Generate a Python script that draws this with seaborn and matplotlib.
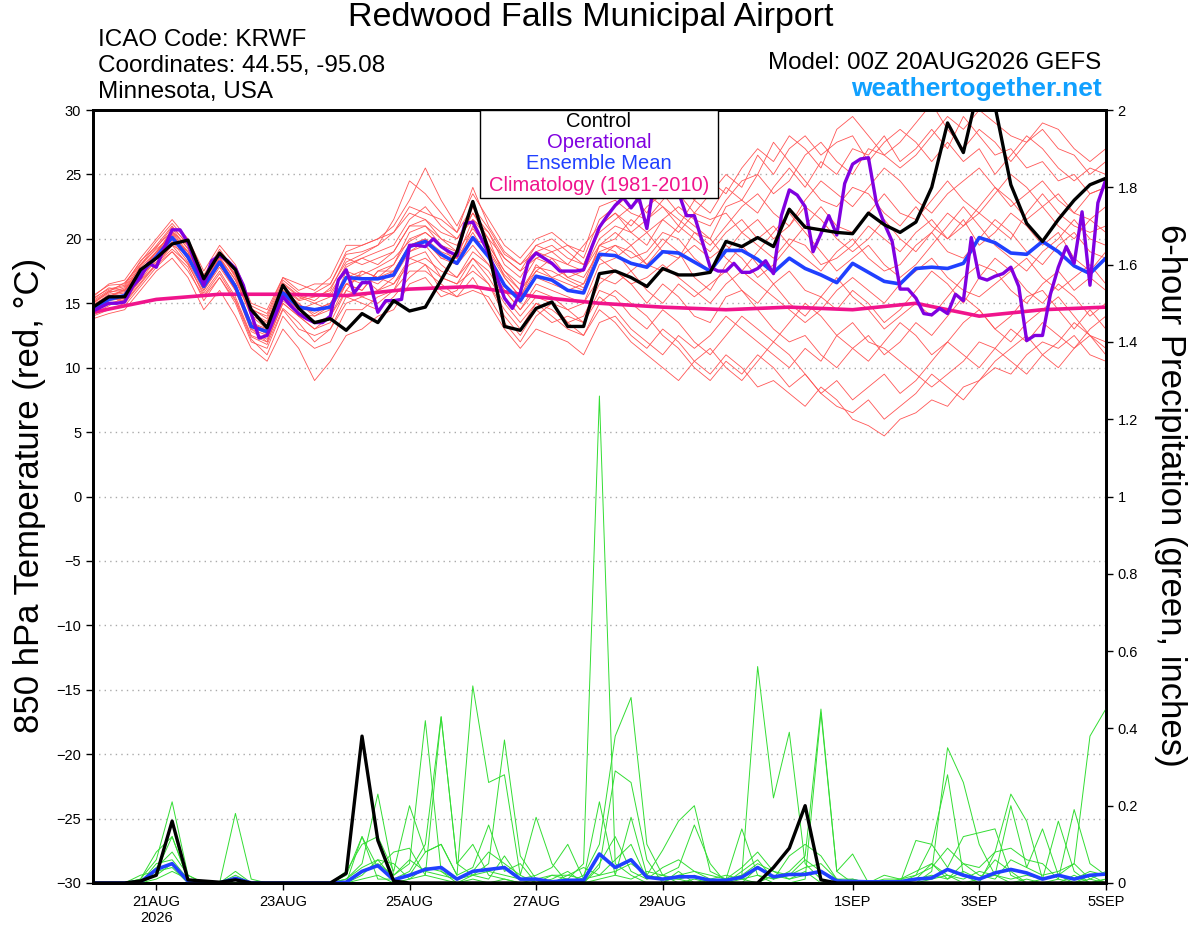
import numpy as np
import pandas as pd
import seaborn as sns
import matplotlib.pyplot as plt
from matplotlib.patches import Rectangle
from matplotlib.ticker import MultipleLocator, FormatStrFormatter

# time axes: GEFS every 6 h, operational every 3 h, climatology daily
times = pd.date_range('2026-08-20 00:00', '2026-09-05 00:00', freq='6h')
op_times = pd.date_range('2026-08-20 00:00', '2026-09-05 00:00', freq='3h')
clim_times = pd.date_range('2026-08-20', '2026-09-05', freq='1D')

tick_dates = pd.to_datetime(['2026-08-21', '2026-08-23', '2026-08-25', '2026-08-27',
                             '2026-08-29', '2026-09-01', '2026-09-03', '2026-09-05'])
tick_labels = ['21AUG\n2026', '23AUG', '25AUG', '27AUG', '29AUG', '1SEP', '3SEP', '5SEP']

# 850 hPa temperature (C)
control_t = [14.7, 15.5, 15.5, 17.6, 18.5, 19.6, 19.9, 16.9, 18.9, 17.6, 14.5, 13.1, 16.4,
             14.6, 13.5, 13.8, 12.9, 14.2, 13.5, 15.2, 14.4, 14.7, 16.8, 19.0, 22.9, 19.1,
             13.2, 12.9, 14.6, 15.1, 13.2, 13.2, 17.3, 17.5, 17.0, 16.3, 17.7, 17.2, 17.2,
             17.4, 19.8, 19.4, 20.1, 19.4, 22.3, 20.9, 20.7, 20.5, 20.4, 22.0, 21.1, 20.5,
             21.3, 24.0, 29.0, 26.7, 32.0, 30.3, 24.2, 21.2, 19.8, 21.5, 23.0, 24.2, 24.7]

mean_t = [14.6, 15.3, 15.6, 17.3, 18.6, 20.1, 18.6, 16.3, 18.2, 16.3, 13.2, 12.8, 15.8,
          14.7, 14.5, 14.7, 17.0, 16.9, 16.9, 17.2, 19.4, 19.8, 18.8, 18.1, 20.1, 18.6,
          16.4, 15.2, 17.1, 16.8, 16.0, 15.8, 18.8, 18.7, 18.1, 17.8, 19.0, 18.9, 18.2,
          17.5, 19.1, 19.1, 18.4, 17.4, 18.5, 17.7, 17.2, 16.6, 18.1, 17.4, 16.7, 16.5,
          17.7, 17.8, 17.7, 18.1, 20.1, 19.7, 18.9, 18.8, 19.8, 19.0, 17.9, 17.3, 18.5]

oper_t = [14.4, 14.7, 15.0, 15.0, 15.1, 16.3, 17.0, 18.1, 17.8, 19.3, 20.7, 20.7, 19.7, 18.0, 16.4, 18.3,
          18.7, 18.3, 17.7, 16.4, 14.2, 12.3, 12.5, 14.0, 15.5, 14.8, 14.2, 13.8, 13.5, 13.5, 14.0, 16.8,
          17.6, 15.8, 16.6, 16.6, 14.3, 15.2, 15.2, 15.3, 19.5, 19.5, 19.4, 20.0, 19.4, 19.0, 18.7, 21.2,
          21.3, 20.1, 18.9, 17.1, 15.4, 14.6, 15.8, 18.2, 18.9, 18.5, 18.1, 17.5, 17.5, 17.5, 17.6, 19.3,
          20.9, 21.8, 22.6, 23.2, 22.4, 23.2, 20.8, 24.8, 25.5, 25.0, 23.6, 21.8, 21.8, 19.8, 17.8, 17.5,
          17.5, 18.1, 17.4, 17.4, 17.7, 18.3, 17.3, 21.8, 23.8, 23.4, 22.5, 19.0, 20.4, 21.8, 20.3, 24.3,
          25.8, 26.2, 26.3, 22.8, 21.2, 19.8, 16.1, 16.1, 15.4, 14.2, 14.1, 14.6, 14.2, 15.7, 15.2, 20.1,
          17.0, 16.8, 17.1, 17.3, 17.8, 16.3, 12.1, 12.5, 12.5, 15.7, 17.8, 19.4, 18.1, 22.1, 16.4, 22.8,
          24.6]

clim_t = [14.3, 15.3, 15.7, 15.7, 15.6, 16.1, 16.3, 15.5, 15.0, 14.7, 14.5, 14.7, 14.5,
          15.0, 14.0, 14.5, 14.7]

# ensemble members (temperature)
m01 = [15.2, 16.0, 16.3, 18.0, 19.5, 21.0, 19.5, 17.0, 19.0, 17.0, 14.0, 13.5, 16.5,
       15.5, 15.0, 15.5, 18.0, 18.5, 19.0, 19.5, 21.5, 22.5, 21.0, 20.0, 22.0, 20.5,
       18.0, 17.0, 19.0, 19.5, 18.5, 18.0, 21.0, 22.0, 21.0, 22.5, 23.5, 22.0, 21.0,
       20.0, 22.5, 23.0, 22.0, 24.0, 25.5, 24.0, 26.0, 25.0, 27.0, 26.5, 28.0, 26.0,
       27.0, 28.5, 27.0, 29.5, 28.0, 26.5, 27.0, 25.5, 26.0, 24.5, 25.0, 23.5, 24.0]
m02 = [14.0, 14.5, 15.0, 16.5, 18.0, 19.0, 17.5, 15.5, 17.0, 15.0, 12.0, 11.5, 14.5,
       13.0, 12.5, 13.0, 15.5, 15.0, 14.5, 15.5, 17.0, 18.0, 16.0, 15.5, 17.0, 15.0,
       13.0, 11.5, 13.0, 12.5, 12.0, 11.0, 13.5, 14.0, 12.5, 11.5, 13.0, 12.0, 10.5,
       9.5, 11.0, 10.0, 8.5, 9.0, 8.0, 7.0, 8.5, 7.5, 6.0, 5.5, 4.7, 6.0,
       6.5, 7.5, 7.0, 8.5, 9.0, 10.0, 9.5, 11.0, 12.0, 11.5, 12.5, 11.0, 10.5]
m03 = [14.8, 15.5, 16.0, 17.5, 19.0, 20.5, 19.0, 16.5, 18.5, 16.5, 13.0, 12.5, 16.0,
       15.0, 14.0, 14.5, 16.5, 16.0, 17.5, 18.0, 20.0, 20.5, 19.5, 18.0, 21.0, 19.0,
       17.0, 15.5, 18.0, 17.0, 16.5, 16.0, 19.5, 19.0, 17.5, 18.5, 20.0, 19.0, 17.0,
       16.0, 18.0, 19.5, 18.0, 16.5, 17.5, 16.0, 15.5, 14.5, 16.0, 15.0, 13.5, 14.5,
       16.0, 17.5, 16.5, 15.0, 17.0, 18.5, 17.5, 16.0, 15.0, 16.5, 15.5, 14.0, 15.0]
m04 = [15.5, 16.5, 16.8, 18.5, 20.0, 21.5, 20.0, 17.5, 19.5, 18.0, 15.0, 14.5, 17.0,
       16.5, 16.0, 17.0, 19.5, 19.5, 20.0, 21.0, 23.0, 25.5, 23.0, 21.0, 23.5, 21.5,
       19.5, 18.5, 20.0, 20.5, 19.5, 19.0, 22.5, 23.0, 22.0, 21.5, 23.0, 24.5, 23.0,
       22.0, 24.0, 23.0, 25.0, 27.5, 26.0, 24.5, 23.0, 22.5, 24.0, 23.5, 22.0, 21.0,
       22.5, 21.0, 20.0, 21.5, 19.5, 20.5, 22.0, 21.0, 19.5, 20.5, 18.5, 17.5, 19.0]
m05 = [13.8, 14.2, 14.5, 16.0, 17.5, 18.5, 17.0, 14.5, 16.0, 14.0, 11.5, 10.5, 13.0,
       11.5, 9.0, 10.5, 12.5, 13.0, 14.0, 14.5, 16.5, 17.0, 15.5, 16.0, 18.0, 16.5,
       14.5, 13.0, 15.0, 14.5, 13.5, 14.0, 16.5, 17.5, 16.5, 15.0, 16.5, 15.5, 14.0,
       13.5, 15.5, 16.0, 14.5, 13.0, 12.0, 12.5, 11.0, 10.0, 11.5, 12.5, 11.0, 12.0,
       13.5, 12.5, 14.0, 15.5, 14.5, 13.0, 14.0, 15.5, 16.0, 14.5, 13.0, 14.5, 13.0]
m06 = [15.0, 15.8, 16.2, 17.8, 19.0, 20.0, 18.5, 16.0, 18.0, 16.0, 13.5, 13.0, 15.5,
       14.5, 15.0, 14.5, 17.5, 17.0, 16.5, 17.5, 19.0, 19.5, 18.0, 17.0, 19.0, 18.0,
       16.0, 14.5, 16.5, 16.0, 15.5, 15.0, 18.0, 18.5, 19.5, 18.0, 19.5, 21.0, 20.0,
       19.0, 20.5, 21.5, 20.0, 21.0, 19.5, 21.0, 22.5, 21.0, 20.5, 22.0, 23.5, 22.0,
       21.5, 23.0, 24.5, 23.0, 22.0, 23.5, 25.0, 24.0, 22.5, 23.5, 22.0, 21.5, 20.5]
m07 = [14.5, 15.0, 15.3, 17.0, 18.5, 20.0, 19.0, 16.8, 18.5, 16.8, 14.0, 13.0, 16.0,
       14.0, 13.5, 14.0, 16.0, 17.5, 17.0, 16.5, 18.5, 18.0, 17.0, 16.5, 18.5, 17.5,
       15.5, 14.0, 15.5, 15.0, 14.5, 13.5, 16.0, 15.5, 14.0, 13.0, 14.5, 13.5, 12.0,
       11.0, 12.5, 14.0, 13.0, 12.0, 13.5, 15.0, 14.0, 12.5, 11.5, 10.5, 12.0, 13.5,
       12.5, 11.0, 12.0, 13.5, 14.5, 13.0, 12.0, 13.5, 14.5, 15.5, 14.0, 12.5, 12.0]
m08 = [15.3, 16.2, 16.0, 17.5, 19.0, 20.5, 19.5, 17.0, 18.8, 17.2, 14.5, 14.0, 16.8,
       15.8, 15.5, 16.0, 18.5, 18.0, 18.5, 19.0, 21.0, 21.5, 20.0, 19.0, 22.5, 19.5,
       17.5, 16.5, 18.5, 18.0, 17.0, 17.5, 20.0, 21.0, 20.5, 19.5, 21.5, 22.5, 21.5,
       21.0, 23.0, 24.5, 25.0, 23.5, 24.5, 26.5, 27.5, 26.0, 25.0, 27.0, 26.5, 25.5,
       26.5, 28.0, 29.5, 28.5, 30.0, 29.0, 28.0, 27.5, 29.0, 28.5, 27.0, 26.0, 27.0]
m09 = [14.2, 14.8, 15.5, 17.2, 18.2, 19.5, 18.0, 15.8, 17.5, 15.5, 12.5, 12.0, 15.0,
       14.0, 13.0, 13.5, 16.0, 15.5, 16.0, 16.5, 18.0, 18.5, 17.5, 17.0, 18.5, 17.0,
       15.0, 13.5, 15.0, 14.0, 13.0, 12.5, 15.0, 16.0, 15.0, 14.0, 12.5, 11.5, 10.0,
       9.0, 10.5, 9.5, 11.0, 10.0, 8.5, 9.5, 8.0, 9.0, 7.5, 8.5, 9.5, 8.0,
       9.0, 10.5, 12.0, 11.0, 10.0, 11.5, 13.0, 12.0, 13.5, 12.5, 11.5, 13.0, 14.0]
m10 = [14.9, 15.6, 15.8, 17.5, 18.8, 20.8, 19.2, 16.5, 18.2, 16.5, 13.5, 12.8, 15.5,
       14.8, 14.5, 15.0, 17.0, 16.5, 17.0, 18.0, 20.5, 21.0, 20.0, 19.5, 22.0, 20.0,
       18.5, 17.5, 18.5, 19.0, 18.0, 17.5, 19.5, 20.5, 19.5, 20.5, 19.0, 18.5, 19.5,
       18.5, 19.5, 18.5, 17.0, 18.0, 19.5, 18.5, 17.5, 19.0, 20.0, 18.5, 17.5, 18.0,
       19.5, 20.5, 19.0, 18.5, 20.0, 21.5, 20.5, 19.0, 18.0, 19.5, 20.5, 19.0, 18.5]
m11 = [14.4, 15.2, 15.4, 16.8, 18.0, 19.5, 18.8, 16.2, 18.5, 16.0, 12.8, 12.2, 15.2,
       14.2, 14.0, 14.8, 16.5, 17.0, 16.0, 17.0, 19.0, 19.8, 18.5, 18.5, 20.5, 18.5,
       16.5, 15.0, 17.0, 16.5, 16.0, 16.5, 18.5, 17.5, 16.5, 17.0, 18.0, 17.0, 16.0,
       15.0, 16.5, 17.5, 16.5, 15.5, 14.5, 13.5, 14.5, 16.0, 17.0, 16.0, 15.0, 16.5,
       17.5, 18.5, 17.0, 16.0, 15.5, 16.5, 17.5, 18.5, 17.0, 16.0, 17.0, 18.0, 16.5]
m12 = [15.6, 16.4, 16.5, 18.2, 19.8, 21.2, 19.8, 17.2, 19.2, 17.5, 14.8, 14.2, 17.0,
       16.0, 16.5, 16.5, 19.0, 19.5, 20.0, 20.5, 22.5, 22.0, 21.5, 20.5, 24.0, 21.0,
       19.0, 18.0, 19.5, 19.0, 19.5, 18.5, 21.5, 22.5, 23.5, 22.0, 24.5, 23.5, 22.0,
       23.5, 25.0, 24.0, 26.5, 25.0, 27.0, 28.0, 26.5, 27.5, 28.0, 26.0, 27.5, 28.5,
       27.5, 26.0, 27.5, 26.0, 27.0, 25.0, 26.5, 28.0, 27.0, 25.5, 24.5, 25.5, 25.0]
m13 = [14.1, 14.6, 14.8, 16.3, 17.8, 19.0, 17.8, 15.2, 17.0, 15.2, 12.2, 11.0, 14.0,
       12.5, 11.5, 12.0, 14.5, 14.5, 15.5, 16.0, 18.5, 19.0, 17.0, 16.5, 17.5, 16.5,
       14.0, 12.5, 14.5, 13.5, 14.0, 13.5, 15.5, 14.5, 13.0, 12.0, 11.0, 12.5, 11.5,
       12.5, 14.0, 13.0, 12.0, 11.0, 10.0, 11.5, 10.5, 12.5, 13.5, 12.0, 11.5, 10.5,
       9.5, 8.5, 9.5, 10.5, 12.0, 11.5, 10.5, 9.5, 11.0, 12.0, 13.5, 12.5, 11.5]
m14 = [15.1, 15.9, 16.6, 18.0, 19.2, 20.2, 19.0, 16.6, 18.6, 16.8, 14.2, 13.6, 16.2,
       15.2, 15.5, 15.8, 17.8, 18.5, 18.0, 19.0, 21.0, 21.0, 19.5, 18.5, 21.5, 20.0,
       17.0, 15.5, 17.5, 18.5, 17.0, 16.5, 19.5, 20.0, 21.5, 20.5, 21.5, 20.5, 22.0,
       21.5, 22.0, 20.5, 21.5, 20.0, 21.0, 22.5, 21.5, 20.0, 19.0, 20.0, 21.5, 20.0,
       19.0, 20.5, 22.0, 21.0, 22.5, 24.0, 23.0, 21.5, 22.5, 21.0, 20.0, 21.5, 22.5]
m15 = [14.6, 15.4, 15.2, 16.8, 18.4, 19.8, 18.2, 16.0, 17.8, 16.0, 13.0, 12.0, 15.0,
       14.0, 13.0, 14.0, 16.5, 16.0, 17.5, 17.5, 19.5, 20.0, 18.5, 18.0, 19.5, 18.0,
       16.0, 14.5, 16.0, 15.5, 14.5, 15.0, 17.0, 16.5, 17.5, 16.0, 15.0, 16.5, 15.5,
       16.5, 17.5, 16.0, 15.0, 16.5, 15.0, 14.0, 15.5, 17.0, 15.5, 14.5, 13.0, 14.0,
       15.0, 14.0, 15.5, 17.0, 18.0, 17.5, 16.0, 15.0, 16.5, 17.5, 16.0, 17.0, 16.0]
m16 = [14.7, 15.5, 16.1, 17.6, 18.9, 20.3, 18.4, 16.4, 18.0, 16.2, 13.3, 12.6, 15.6,
       14.5, 14.5, 15.0, 17.0, 17.5, 17.0, 17.5, 19.5, 20.0, 19.0, 18.5, 20.0, 19.5,
       17.5, 16.0, 17.5, 17.0, 17.5, 17.0, 19.0, 19.5, 18.5, 19.0, 20.5, 20.0, 18.5,
       17.5, 19.0, 20.5, 19.5, 18.5, 20.0, 19.5, 18.0, 18.5, 19.5, 21.0, 20.0, 19.0,
       20.5, 21.5, 20.0, 21.0, 22.0, 21.0, 20.0, 22.0, 23.5, 22.0, 21.0, 20.5, 21.0]
m17 = [15.4, 16.1, 16.4, 18.3, 19.4, 20.6, 19.3, 17.1, 18.7, 17.3, 14.6, 13.8, 16.6,
       15.6, 15.2, 16.2, 18.2, 18.8, 19.5, 20.5, 22.0, 21.5, 20.5, 20.0, 21.5, 20.5,
       18.5, 17.5, 19.5, 20.0, 19.0, 18.0, 20.5, 21.5, 22.5, 23.5, 22.5, 21.0, 23.0,
       24.5, 23.5, 25.5, 27.0, 26.0, 28.0, 27.0, 25.5, 28.5, 29.5, 28.0, 26.5, 27.5,
       29.0, 30.5, 28.5, 27.0, 28.5, 27.5, 26.0, 27.5, 28.5, 27.0, 26.5, 25.0, 26.0]
m18 = [14.3, 15.0, 15.1, 16.6, 18.1, 19.2, 18.1, 15.6, 17.3, 15.3, 12.4, 11.8, 14.6,
       13.5, 12.0, 13.0, 15.0, 15.5, 15.0, 16.0, 17.5, 17.5, 16.5, 15.5, 16.0, 15.5,
       13.5, 12.0, 14.0, 15.0, 13.5, 12.5, 14.5, 13.5, 12.0, 11.0, 10.0, 9.0, 10.5,
       11.5, 10.0, 9.0, 10.5, 12.0, 11.0, 9.5, 8.0, 7.0, 6.5, 7.5, 6.0, 7.0,
       8.0, 9.5, 8.5, 7.5, 9.0, 10.5, 11.5, 12.5, 11.0, 10.0, 11.5, 12.5, 11.0]
m19 = [14.8, 15.7, 15.9, 17.4, 18.7, 20.4, 18.8, 16.6, 18.3, 16.4, 13.4, 12.9, 15.9,
       14.9, 14.2, 14.9, 16.9, 17.2, 17.8, 18.5, 19.8, 20.5, 19.5, 19.0, 20.8, 19.2,
       17.2, 16.0, 17.8, 17.5, 16.8, 16.2, 18.5, 19.5, 19.0, 18.0, 17.5, 18.5, 20.5,
       20.0, 18.5, 17.5, 19.0, 20.5, 22.0, 20.5, 19.0, 17.5, 18.5, 19.5, 18.0, 17.0,
       18.0, 19.5, 21.0, 22.5, 21.0, 19.5, 18.5, 17.5, 19.0, 20.0, 21.5, 20.0, 19.5]
m20 = [15.0, 15.9, 16.0, 17.9, 19.3, 20.9, 19.6, 16.9, 18.9, 17.1, 14.3, 13.3, 16.3,
       15.3, 15.8, 16.5, 18.8, 19.0, 19.5, 21.5, 24.5, 23.5, 22.0, 20.5, 22.5, 20.8,
       18.8, 18.0, 19.0, 18.5, 18.0, 19.5, 21.0, 22.0, 20.5, 21.5, 22.5, 21.5, 20.5,
       19.5, 21.0, 22.5, 23.5, 22.0, 21.0, 23.0, 24.5, 23.5, 22.5, 24.0, 25.5, 24.5,
       23.0, 22.0, 23.5, 24.5, 25.5, 24.0, 22.5, 23.5, 24.5, 23.0, 22.0, 23.5, 24.0]
temp_members = [m01, m02, m03, m04, m05, m06, m07, m08, m09, m10,
                m11, m12, m13, m14, m15, m16, m17, m18, m19, m20]

# 6-hour precipitation (inches)
control_p = [0, 0, 0, 0.005, 0.02, 0.16, 0.008, 0.005, 0.002, 0.008, 0, 0, 0,
             0, 0, 0, 0.025, 0.38, 0.11, 0.005, 0, 0, 0, 0, 0, 0,
             0, 0, 0, 0, 0, 0, 0, 0, 0, 0, 0, 0, 0,
             0, 0, 0, 0, 0.04, 0.09, 0.2, 0.008, 0, 0, 0, 0, 0,
             0, 0, 0, 0, 0, 0, 0, 0, 0, 0, 0, 0, 0]
mean_p = [0, 0, 0, 0.002, 0.035, 0.05, 0.005, 0.002, 0, 0.012, 0, 0, 0,
          0, 0, 0, 0.002, 0.03, 0.045, 0.008, 0.02, 0.035, 0.04, 0.01, 0.03, 0.035,
          0.04, 0.01, 0.01, 0.003, 0.007, 0.007, 0.075, 0.04, 0.06, 0.015, 0.01, 0.016, 0.016,
          0.007, 0.007, 0.015, 0.04, 0.016, 0.022, 0.022, 0.03, 0.005, 0.004, 0.003, 0.003, 0.003,
          0.01, 0.013, 0.035, 0.02, 0.01, 0.026, 0.035, 0.026, 0.01, 0.02, 0.01, 0.02, 0.023]

g01 = [0, 0, 0, 0.01, 0.06, 0.21, 0.02, 0, 0, 0, 0, 0, 0,
       0, 0, 0, 0, 0.02, 0.06, 0.01, 0.03, 0.1, 0.43, 0.05, 0.1, 0.02,
       0.01, 0, 0, 0, 0.01, 0.05, 1.26, 0.05, 0.02, 0, 0, 0.03, 0,
       0, 0, 0.02, 0.56, 0.22, 0.39, 0.05, 0.01, 0, 0, 0, 0, 0,
       0, 0.03, 0.35, 0.26, 0.1, 0.02, 0, 0.01, 0, 0, 0.02, 0, 0.01]
g02 = [0, 0, 0, 0, 0.03, 0.12, 0.01, 0, 0, 0.18, 0.01, 0, 0,
       0, 0, 0, 0.01, 0.05, 0.23, 0.02, 0.05, 0.42, 0.03, 0, 0.02, 0.05,
       0.37, 0.07, 0.01, 0, 0, 0.02, 0.1, 0.38, 0.48, 0.1, 0.02, 0, 0.01,
       0, 0, 0, 0.04, 0.01, 0.02, 0.06, 0.03, 0.01, 0, 0, 0, 0,
       0.02, 0.1, 0.04, 0.12, 0.13, 0.14, 0.02, 0, 0, 0.01, 0, 0.02, 0]
g03 = [0, 0, 0, 0, 0.02, 0.05, 0, 0, 0, 0, 0, 0, 0,
       0, 0, 0, 0.03, 0.1, 0.12, 0.03, 0.2, 0.08, 0.1, 0.02, 0.51, 0.26,
       0.28, 0.02, 0.17, 0.05, 0, 0, 0.04, 0.29, 0.26, 0.06, 0, 0.02, 0.03,
       0.01, 0, 0.01, 0.02, 0.01, 0.03, 0.07, 0.45, 0.03, 0, 0, 0, 0,
       0, 0.01, 0.02, 0, 0.01, 0.06, 0.03, 0, 0.01, 0.02, 0.05, 0.38, 0.45]
g04 = [0, 0, 0, 0.01, 0.08, 0.12, 0.01, 0, 0, 0.03, 0, 0, 0,
       0, 0, 0, 0, 0.12, 0.04, 0.08, 0.09, 0.02, 0.43, 0.05, 0.02, 0.01,
       0.07, 0.01, 0.02, 0.04, 0.1, 0.01, 0.21, 0.02, 0.17, 0.02, 0.085, 0.16, 0.2,
       0.03, 0.01, 0.14, 0.02, 0, 0, 0.01, 0.44, 0.03, 0.075, 0, 0, 0,
       0.11, 0.1, 0.28, 0.02, 0, 0.08, 0.23, 0.16, 0.01, 0.16, 0.03, 0, 0.01]
g05 = [0, 0, 0, 0, 0.04, 0.08, 0.02, 0, 0, 0, 0, 0, 0,
       0, 0, 0, 0.02, 0.12, 0.01, 0.01, 0.02, 0.08, 0.1, 0.02, 0.04, 0.15,
       0.03, 0.05, 0, 0.02, 0.02, 0.01, 0.02, 0.06, 0.1, 0.01, 0.02, 0.04, 0.15,
       0.05, 0, 0.03, 0.06, 0.01, 0.07, 0.1, 0.07, 0.01, 0.01, 0, 0.02, 0.01,
       0.01, 0.05, 0.01, 0.05, 0.04, 0.08, 0.09, 0.06, 0.05, 0.01, 0.19, 0.05, 0.02]
g06 = [0, 0, 0, 0, 0.05, 0.06, 0.01, 0, 0, 0.01, 0, 0, 0,
       0, 0, 0, 0.01, 0.04, 0.06, 0.05, 0.01, 0.04, 0.03, 0.01, 0.02, 0.03,
       0.02, 0.01, 0.01, 0, 0.02, 0.04, 0.02, 0.03, 0.05, 0.02, 0.01, 0.01, 0.02,
       0, 0.01, 0.02, 0.05, 0.03, 0.01, 0.02, 0.03, 0, 0.01, 0, 0.01, 0.01,
       0.03, 0.05, 0.02, 0.01, 0.03, 0.02, 0.2, 0.04, 0.14, 0.02, 0.01, 0.03, 0.02]
g07 = [0, 0, 0, 0.02, 0.03, 0.04, 0, 0, 0, 0, 0, 0, 0,
       0, 0, 0, 0, 0.01, 0.02, 0, 0.01, 0.02, 0.01, 0, 0.01, 0,
       0.01, 0, 0.01, 0.02, 0.01, 0, 0.01, 0.02, 0.01, 0.03, 0.02, 0.01, 0,
       0.01, 0.02, 0.01, 0, 0.02, 0.01, 0.03, 0, 0, 0, 0, 0, 0,
       0.01, 0.02, 0.01, 0.03, 0.01, 0.02, 0.01, 0.02, 0.01, 0.02, 0, 0.01, 0.03]
g08 = [0, 0, 0, 0, 0.01, 0.03, 0.01, 0, 0, 0.02, 0, 0, 0,
       0, 0, 0, 0, 0.03, 0.05, 0.02, 0.06, 0.03, 0.02, 0.01, 0.03, 0.08,
       0.05, 0.02, 0, 0.01, 0.03, 0, 0.05, 0.12, 0.03, 0.01, 0.04, 0.06, 0.03,
       0.02, 0.01, 0.04, 0.08, 0.03, 0.02, 0.04, 0.05, 0.01, 0, 0, 0, 0.01,
       0.02, 0.04, 0.09, 0.05, 0.02, 0.01, 0.06, 0.04, 0.02, 0.03, 0.05, 0.01, 0]
precip_members = [g01, g02, g03, g04, g05, g06, g07, g08]

RED = '#ff5555'
GREEN = '#33dd33'
PURPLE = '#8000e0'
BLUE = '#2040ff'
PINK = '#f0148c'

sns.set_style('white')
plt.rcParams['font.family'] = ['Liberation Sans', 'DejaVu Sans']
plt.rcParams['text.color'] = 'black'
plt.rcParams['axes.labelcolor'] = 'black'
plt.rcParams['xtick.color'] = 'black'
plt.rcParams['ytick.color'] = 'black'

fig = plt.figure(figsize=(12, 9.27), dpi=100)
ax = fig.add_axes([0.0775, 0.0475, 0.844, 0.8338])
ax2 = ax.twinx()

# long-form tables for the spaghetti members
df_t = pd.DataFrame({
    'time': np.tile(times, len(temp_members)),
    'member': np.repeat(np.arange(len(temp_members)), len(times)),
    'temp': np.concatenate(temp_members),
})
df_p = pd.DataFrame({
    'time': np.tile(times, len(precip_members)),
    'member': np.repeat(np.arange(len(precip_members)), len(times)),
    'precip': np.concatenate(precip_members),
})

sns.lineplot(data=df_t, x='time', y='temp', units='member', estimator=None,
             color=RED, lw=0.6, ax=ax, legend=False)
sns.lineplot(x=clim_times, y=clim_t, color=PINK, lw=2.6, ax=ax)
sns.lineplot(x=times, y=mean_t, color=BLUE, lw=2.6, ax=ax)
sns.lineplot(x=op_times, y=oper_t, color=PURPLE, lw=2.4, ax=ax)
sns.lineplot(x=times, y=control_t, color='black', lw=2.4, ax=ax)

sns.lineplot(data=df_p, x='time', y='precip', units='member', estimator=None,
             color=GREEN, lw=0.7, ax=ax2, legend=False)
sns.lineplot(x=times, y=mean_p, color=BLUE, lw=2.6, ax=ax2)
sns.lineplot(x=times, y=control_p, color='black', lw=2.4, ax=ax2)

ax.set_xlim(times[0], times[-1])
ax.set_ylim(-30, 30)
ax2.set_ylim(0, 2)
ax.yaxis.set_major_locator(MultipleLocator(5))
ax2.yaxis.set_major_locator(MultipleLocator(0.2))
ax2.yaxis.set_major_formatter(FormatStrFormatter('%g'))
ax.set_xticks(tick_dates)
ax.set_xticklabels(tick_labels)
ax.yaxis.grid(True, linestyle=(0, (1, 3)), color='#aaaaaa', lw=1)
ax.xaxis.grid(False)
for a in (ax, ax2):
    a.set_xlabel('')
    a.set_ylabel('')
    for s in a.spines.values():
        s.set_linewidth(2)
        s.set_color('black')
ax.tick_params(axis='both', direction='out', length=5, width=1, labelsize=10.5,
               colors='black', left=True, bottom=True)
ax2.tick_params(axis='y', direction='out', length=5, width=1, labelsize=10.5,
                colors='black', right=True)

# legend box
ax2.add_patch(Rectangle((0.382, 0.886), 0.235, 0.114, transform=ax2.transAxes,
                        facecolor='white', edgecolor='black', lw=1, zorder=10))
legend_rows = [('Control', 'black', 0.985), ('Operational', PURPLE, 0.958),
               ('Ensemble Mean', BLUE, 0.931), ('Climatology (1981-2010)', PINK, 0.902)]
for txt, col, yy in legend_rows:
    ax2.text(0.4995, yy, txt, color=col, fontsize=14.5, ha='center', va='center',
             transform=ax2.transAxes, zorder=11)

# header texts
fig.text(0.492, 0.981, 'Redwood Falls Municipal Airport', fontsize=24.5, ha='center', va='center')
fig.text(0.082, 0.957, 'ICAO Code: KRWF', fontsize=17.5, ha='left', va='center')
fig.text(0.082, 0.929, 'Coordinates: 44.55, -95.08', fontsize=17.5, ha='left', va='center')
fig.text(0.082, 0.901, 'Minnesota, USA', fontsize=17.5, ha='left', va='center')
fig.text(0.918, 0.932, 'Model: 00Z 20AUG2026 GEFS', fontsize=17.4, ha='right', va='center')
fig.text(0.918, 0.904, 'weathertogether.net', fontsize=19, fontweight='bold',
         color='#10a0ff', ha='right', va='center')

fig.text(0.025, 0.466, '850 hPa Temperature (red, °C)', fontsize=25, rotation=90,
         ha='center', va='center')
fig.text(0.975, 0.466, '6-hour Precipitation (green, inches)', fontsize=25, rotation=270,
         ha='center', va='center')

fig.savefig('out.png', dpi=100)
